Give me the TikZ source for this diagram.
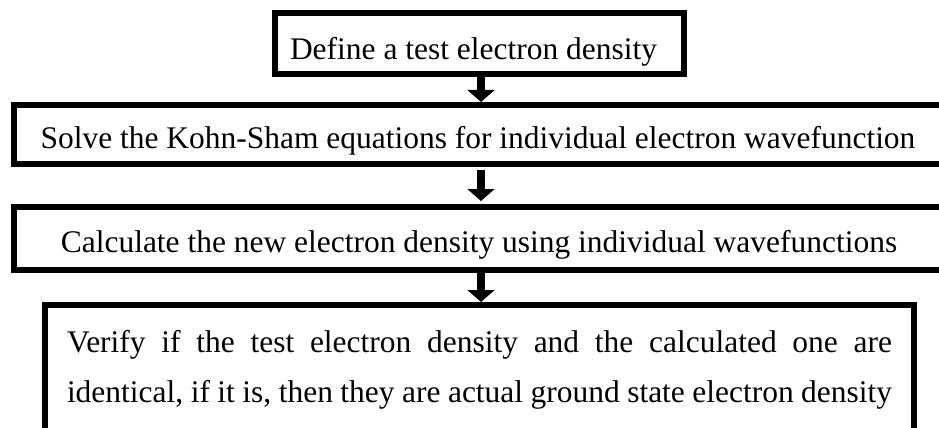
\documentclass[tikz,border=0pt]{standalone}
\usepackage{fontspec}
\setmainfont{Liberation Serif}
\usetikzlibrary{arrows.meta}

\tikzset{
  frame/.style={draw=black, line width=4.5pt, fill=white, inner sep=0pt, outer sep=0pt},
  label txt/.style={inner sep=0pt, outer sep=0pt, anchor=base, font=\fontsize{23.6pt}{28pt}\selectfont},
  flow/.style={line width=6pt, -{Triangle[length=9pt, width=20pt]}},
}

\begin{document}
\begin{tikzpicture}[x=0.75pt, y=-0.75pt]
  \useasboundingbox (0,0) rectangle (939,428);
  \clip (0,0) rectangle (939,428);
  \fill[white] (0,0) rectangle (939,428);

  % process boxes
  \node[frame, minimum width=409*0.75pt, minimum height=61*0.75pt, anchor=north west] (b1) at (275,13) {};
  \node[frame, minimum width=960*0.75pt, minimum height=59*0.75pt, anchor=north west] (b2) at (14,105) {};
  \node[frame, minimum width=960*0.75pt, minimum height=63*0.75pt, anchor=north west] (b3) at (14,207) {};
  \node[frame, minimum width=869*0.75pt, minimum height=160*0.75pt, anchor=north west] (b4) at (45,305) {};

  % box texts
  \node[label txt] (t1) at (473.5,60) {Define a test electron density};
  \node[label txt] (t2) at (478,148) {Solve the Kohn-Sham equations for individual electron wavefunction};
  \node[label txt] (t3) at (479,252) {Calculate the new electron density using individual wavefunctions};
  \node[label txt] (t4a) at (479.5,352) {\makebox[618.75pt][s]{Verify if the test electron density and the calculated one are}};
  \node[label txt] (t4b) at (479.5,402) {\makebox[618.75pt][s]{identical, if it is, then they are actual ground state electron density}};

  % connectors
  \coordinate (x1) at (481,0);
  \draw[flow, shorten >=2.25pt] (b1.south -| x1) -- (b2.north -| x1);
  \draw[flow, shorten <=4.5pt, shorten >=4.5pt] (b2.south -| x1) -- (b3.north -| x1);
  \draw[flow, shorten >=2.25pt] (b3.south -| x1) -- (b4.north -| x1);
\end{tikzpicture}
\end{document}
